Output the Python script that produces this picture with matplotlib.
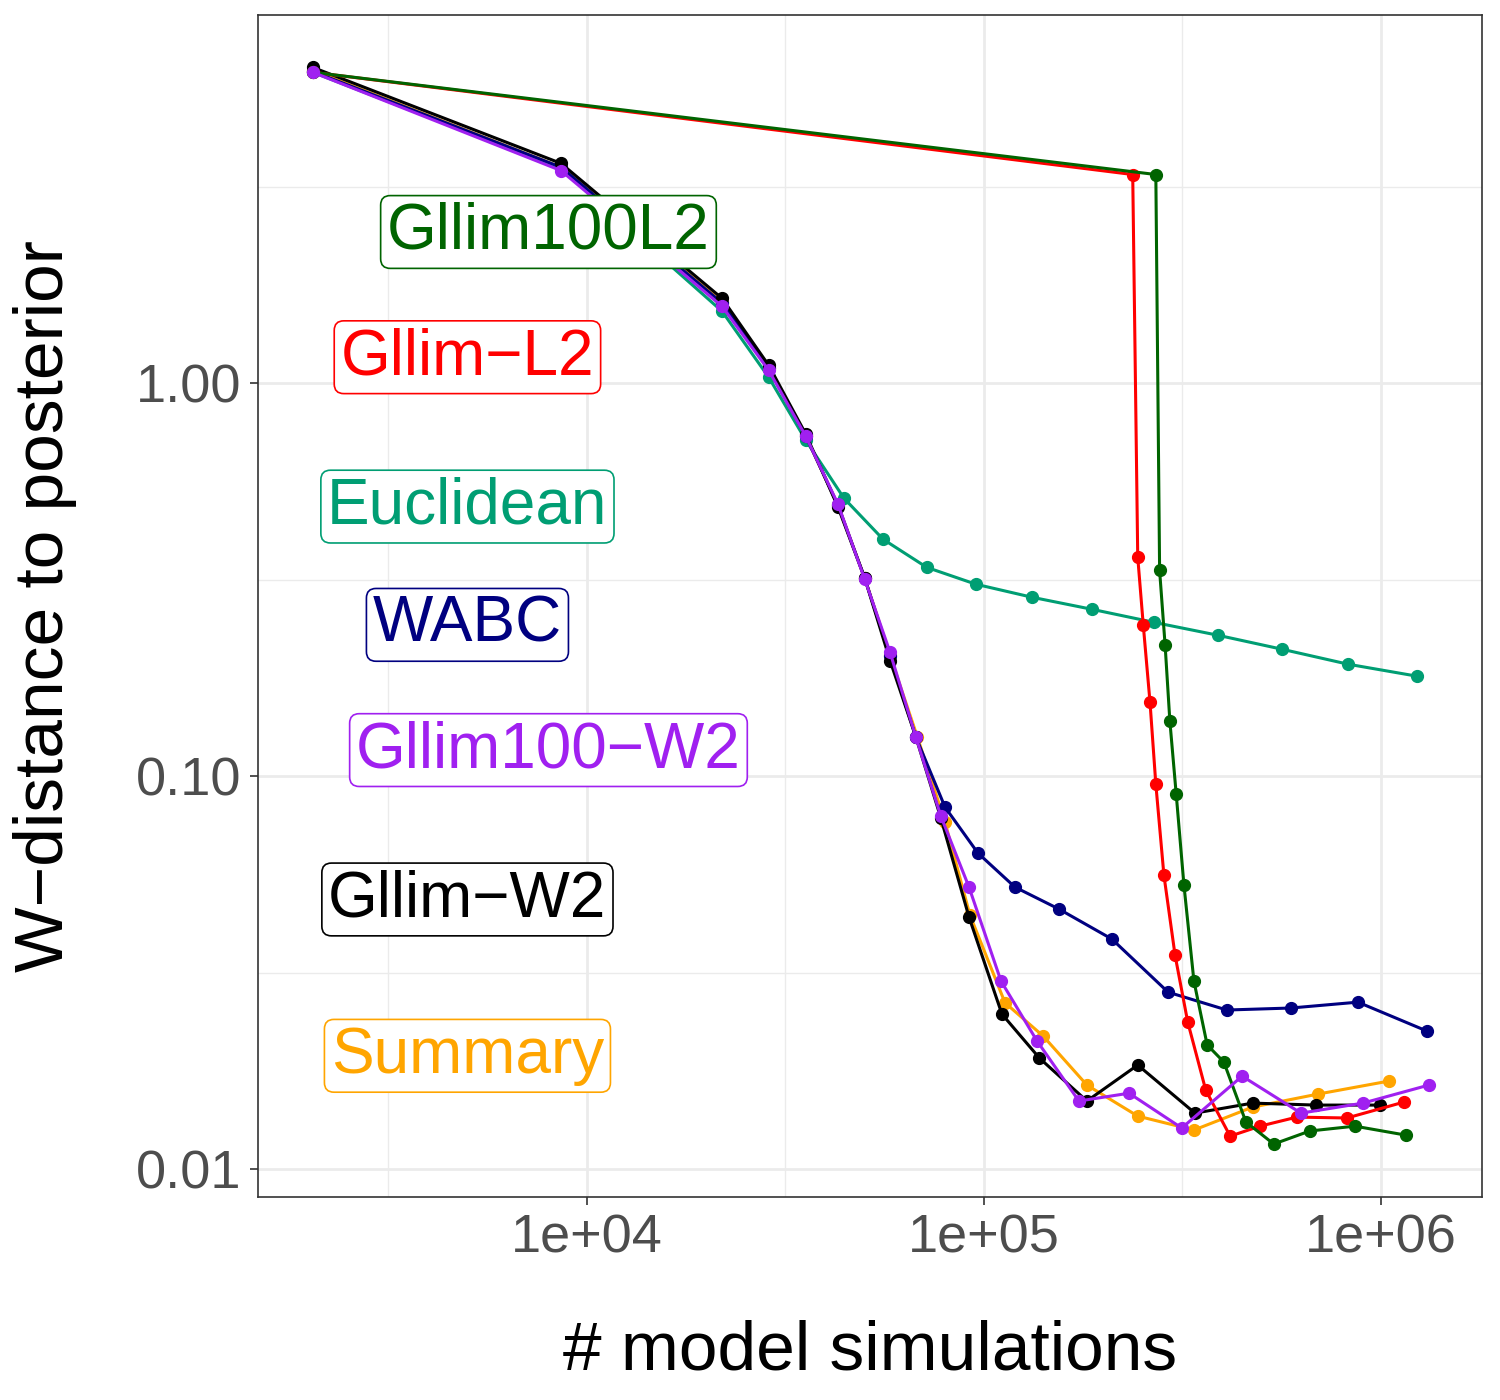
import matplotlib
matplotlib.use("Agg")
import matplotlib.pyplot as plt
from matplotlib.ticker import FixedLocator, FixedFormatter, NullFormatter

plt.rcParams['font.family'] = ['Liberation Sans', 'DejaVu Sans']

# data (x = # model simulations, y = W-distance)
gllim_w2_x = [2040, 8600, 21900, 28700, 35600, 42900, 50100, 58000, 67400, 77900, 91700,
              111000, 138000, 181700, 244000, 340000, 475000, 686000, 994000]
gllim_w2_y = [6.37, 3.63, 1.645, 1.111, 0.742, 0.484, 0.319, 0.197, 0.1257, 0.0782, 0.0438,
              0.0248, 0.01916, 0.0149, 0.0184, 0.01388, 0.01472, 0.01455, 0.01455]

gllim100_w2_x = [2040, 8600, 21900, 28700, 35600, 42900, 50100, 58000, 67400, 77900, 91700,
                 110400, 136000, 173500, 232000, 315000, 447000, 629000, 901000, 1320000]
gllim100_w2_y = [6.19, 3.48, 1.57, 1.079, 0.733, 0.492, 0.317, 0.2068, 0.1257, 0.0791, 0.0522,
                 0.0301, 0.0212, 0.0149, 0.0156, 0.01272, 0.01724, 0.01388, 0.01472, 0.01636]

summary_x = [2040, 8600, 21900, 28700, 35600, 42900, 50100, 58000, 68000, 79800, 92200,
             113000, 141000, 181700, 244000, 338000, 475000, 694000, 1048000]
summary_y = [6.26, 3.55, 1.61, 1.092, 0.733, 0.489, 0.319, 0.203, 0.1257, 0.0764, 0.0443,
             0.0265, 0.0218, 0.01636, 0.01364, 0.01257, 0.01438, 0.01552, 0.01675]

euclid_x = [2040, 8600, 21900, 28700, 35600, 44400, 55700, 71800, 95500, 132000, 187000,
            268000, 388000, 563000, 826000, 1233000]
euclid_y = [6.19, 3.52, 1.525, 1.036, 0.716, 0.510, 0.401, 0.340, 0.308, 0.2855, 0.266,
            0.2464, 0.2285, 0.2105, 0.1928, 0.1797]

wabc_x = [2040, 8600, 21900, 28700, 35600, 42900, 50100, 58000, 67400, 79800, 96600,
          119700, 154500, 210000, 291000, 409000, 593000, 875000, 1306000]
wabc_y = [6.22, 3.55, 1.60, 1.092, 0.733, 0.489, 0.319, 0.2019, 0.1257, 0.0834, 0.0637,
          0.0522, 0.0459, 0.0385, 0.0282, 0.0254, 0.0257, 0.0266, 0.02245]

gllim_l2_x = [2040, 237000, 244000, 252000, 262000, 271000, 284000, 303000, 326000, 362000,
              417000, 496000, 614000, 821000, 1143000]
gllim_l2_y = [6.19, 3.40, 0.361, 0.242, 0.1543, 0.0954, 0.0560, 0.0350, 0.0237, 0.01588,
              0.01213, 0.01286, 0.01356, 0.01349, 0.01481]

gllim100_l2_x = [2040, 271000, 277000, 286000, 294000, 305000, 319000, 338000, 365000, 402000,
                 457000, 537000, 662000, 860000, 1156000]
gllim100_l2_y = [6.19, 3.40, 0.334, 0.2154, 0.138, 0.090, 0.0528, 0.0301, 0.0207, 0.01873,
                 0.01318, 0.01158, 0.0125, 0.01286, 0.0122]

# label names, colours and where the boxes sit
label_names = ["Gllim100L2", "Gllim\u2212L2", "Euclidean", "WABC", "Gllim100\u2212W2", "Gllim\u2212W2", "Summary"]
label_x = [8000, 5000, 5000, 5000, 8000, 5000, 5000]
label_y = [2.5, 1.2, 0.5, 0.25, 0.12, 0.05, 0.02]
colors = ["#006400", "#FF0000", "#009E73", "#000080", "#A020F0", "#000000", "#FFA500"]

series = [
    (summary_x, summary_y, "#FFA500"),
    (euclid_x, euclid_y, "#009E73"),
    (wabc_x, wabc_y, "#000080"),
    (gllim_w2_x, gllim_w2_y, "#000000"),
    (gllim_l2_x, gllim_l2_y, "#FF0000"),
    (gllim100_l2_x, gllim100_l2_y, "#006400"),
    (gllim100_w2_x, gllim100_w2_y, "#A020F0"),
]

fig = plt.figure(figsize=(15, 14), dpi=100)
ax = fig.add_axes([0.172, 0.145, 0.816, 0.844])

for xs, ys, c in series:
    ax.plot(xs, ys, color=c, lw=2.2, marker="o", ms=8.5, zorder=3)

for name, lx, ly, c in zip(label_names, label_x, label_y, colors):
    ax.annotate(name, (lx, ly), xytext=(0, -5), textcoords="offset pixels",
                color=c, fontsize=46, ha="center", va="center", zorder=5,
                bbox=dict(boxstyle="round,pad=0.1,rounding_size=0.15", fc="white", ec=c, lw=1.2))

ax.set_xscale("log")
ax.set_yscale("log")
ax.set_xlim(1484, 1.797e6)
ax.set_ylim(0.00849, 8.64)

ax.xaxis.set_major_locator(FixedLocator([1e4, 1e5, 1e6]))
ax.xaxis.set_major_formatter(FixedFormatter(["1e+04", "1e+05", "1e+06"]))
ax.xaxis.set_minor_locator(FixedLocator([10**3.5, 10**4.5, 10**5.5]))
ax.xaxis.set_minor_formatter(NullFormatter())
ax.yaxis.set_major_locator(FixedLocator([0.01, 0.1, 1.0]))
ax.yaxis.set_major_formatter(FixedFormatter(["0.01", "0.10", "1.00"]))
ax.yaxis.set_minor_locator(FixedLocator([10**-1.5, 10**-0.5, 10**0.5]))
ax.yaxis.set_minor_formatter(NullFormatter())

ax.grid(True, which="major", color="#EBEBEB", lw=2.0, zorder=0)
ax.grid(True, which="minor", color="#EBEBEB", lw=1.0, zorder=0)
ax.set_axisbelow(True)

ax.tick_params(which="major", length=6, width=1.2, color="#333333", labelsize=39,
               labelcolor="#4D4D4D", pad=6)
ax.tick_params(which="minor", length=0)
for s in ax.spines.values():
    s.set_color("#333333")
    s.set_linewidth(1.2)

ax.set_xlabel("# model simulations", fontsize=50, labelpad=40)
ax.set_ylabel("W\u2212distance to posterior", fontsize=50, labelpad=42)

fig.savefig("out.png", dpi=100)
